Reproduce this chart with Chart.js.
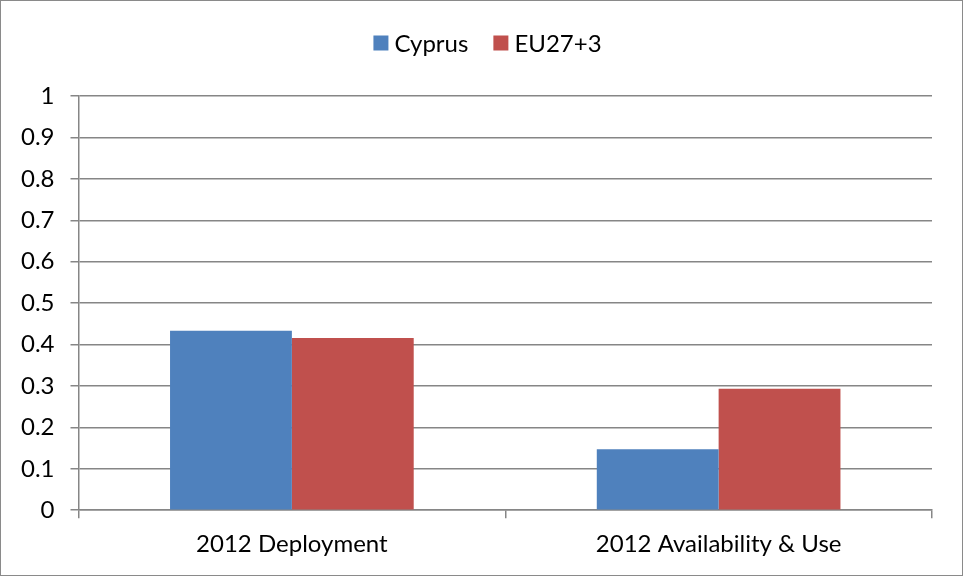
<!DOCTYPE html>
<html>
<head>
<meta charset="utf-8">
<script src="https://cdn.jsdelivr.net/npm/chart.js@4"></script>
<style>
  html, body { margin: 0; padding: 0; background: #fff; }
  #wrap { position: relative; width: 963px; height: 576px; box-sizing: border-box; border: 1px solid #8a8a8a; }
  #chart { position: absolute; left: 0; top: 0; }
</style>
</head>
<body>
<div id="wrap"><canvas id="chart" width="961" height="574"></canvas></div>
<script>
// ---- Data ----
const categories = ['2012 Deployment', '2012 Availability & Use'];
const cyprus = [0.433, 0.147];
const eu = [0.416, 0.293];
const seriesNames = ['Cyprus', 'EU27+3'];

const FONT = 'Lato, "Open Sans", sans-serif';
const axisGray = '#868686';

// Excel-style legend: small square, tight text, wide item gap
const topLegend = {
  id: 'topLegend',
  afterDraw(chart) {
    const c = chart.ctx;
    const box = 15, boxGap = 6, itemGap = 25, y = 42;
    c.save();
    c.font = `24px ${FONT}`;
    c.textBaseline = 'middle';
    const items = chart.data.datasets.map(ds => ({
      text: ds.label, color: ds.backgroundColor, w: c.measureText(ds.label).width
    }));
    const total = items.reduce((s, it) => s + box + boxGap + it.w, 0) + itemGap * (items.length - 1);
    let x = chart.width / 2 + 6 - total / 2;
    items.forEach(it => {
      c.fillStyle = it.color;
      c.fillRect(x, y - box / 2, box, box);
      x += box + boxGap;
      c.fillStyle = '#000';
      c.fillText(it.text, x, y + 1);
      x += it.w + itemGap;
    });
    c.restore();
  }
};

const ctx = document.getElementById('chart');
new Chart(ctx, {
  type: 'bar',
  data: {
    labels: categories,
    datasets: [
      { label: seriesNames[0], data: cyprus, backgroundColor: '#4F81BD' },
      { label: seriesNames[1], data: eu, backgroundColor: '#C0504D' }
    ]
  },
  options: {
    responsive: false,
    animation: false,
    datasets: { bar: { categoryPercentage: 0.571, barPercentage: 1.0 } },
    layout: { padding: { left: 4, right: 30, top: 95, bottom: 4 } },
    plugins: {
      legend: { display: false },
      tooltip: { enabled: false }
    },
    scales: {
      x: {
        grid: { drawOnChartArea: false, drawTicks: true, tickLength: 8, color: axisGray, lineWidth: 1.5 },
        border: { color: axisGray, width: 1.5 },
        ticks: { color: '#000', padding: 12, font: { family: FONT, size: 24 } }
      },
      y: {
        min: 0,
        max: 1,
        grid: { color: axisGray, lineWidth: 1.5, tickLength: 8 },
        border: { color: axisGray, width: 1.5 },
        ticks: {
          stepSize: 0.1,
          color: '#000',
          padding: 16,
          font: { family: FONT, size: 24 },
          callback: v => String(+v.toFixed(1))
        }
      }
    }
  },
  plugins: [topLegend]
});
</script>
</body>
</html>
